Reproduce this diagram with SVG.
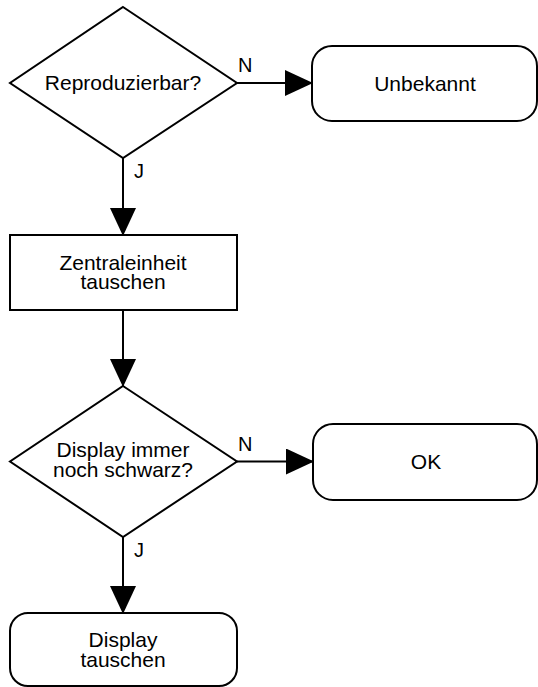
<svg xmlns="http://www.w3.org/2000/svg" width="538" height="687" viewBox="0 0 538 687">
<style>
.shape{fill:#ffffff;stroke:#000000;stroke-width:2}
.lbl{font-family:"Liberation Sans",Arial,Helvetica,sans-serif;font-size:21px;fill:#000000;text-anchor:middle}
.edge{font-family:"Liberation Sans",Arial,Helvetica,sans-serif;font-size:20px;fill:#000000}
.conn{stroke:#000000;stroke-width:2;fill:none;marker-end:url(#ah)}
</style>
<defs>
<marker id="ah" markerUnits="userSpaceOnUse" markerWidth="28" markerHeight="26" refX="27" refY="13" orient="auto" viewBox="0 0 28 26">
<path d="M0,0 L28,13 L0,26 Z" fill="#000000"/>
</marker>
</defs>
<rect width="538" height="687" fill="#ffffff"/>
<g id="connectors">
<line class="conn" x1="237" y1="83" x2="312" y2="83"/>
<line class="conn" x1="123" y1="158" x2="123" y2="235"/>
<line class="conn" x1="123" y1="310" x2="123" y2="386"/>
<line class="conn" x1="237" y1="461.5" x2="313" y2="461.5"/>
<line class="conn" x1="123" y1="537" x2="123" y2="613"/>
<text class="edge" x="238" y="72">N</text>
<text class="edge" x="134" y="178">J</text>
<text class="edge" x="238" y="451">N</text>
<text class="edge" x="134" y="557">J</text>
</g>
<g id="reproduzierbar">
<polygon class="shape" points="123,7 237,83 123,158 10,83"/>
<text class="lbl" x="123" y="90">Reproduzierbar?</text>
</g>
<g id="unbekannt">
<rect class="shape" x="312" y="46" width="225" height="75" rx="20" ry="20"/>
<text class="lbl" x="425" y="91">Unbekannt</text>
</g>
<g id="zentraleinheit">
<rect class="shape" x="10" y="235" width="227" height="75"/>
<text class="lbl" x="123" y="270">Zentraleinheit</text>
<text class="lbl" x="123" y="289">tauschen</text>
</g>
<g id="display-schwarz">
<polygon class="shape" points="123,386 237,461.5 123,537 10,461.5"/>
<text class="lbl" x="123" y="457">Display immer</text>
<text class="lbl" x="123" y="477">noch schwarz?</text>
</g>
<g id="ok">
<rect class="shape" x="313" y="424" width="224" height="76" rx="20" ry="20"/>
<text class="lbl" x="426" y="469">OK</text>
</g>
<g id="display-tauschen">
<rect class="shape" x="10" y="613" width="227" height="73" rx="18" ry="18"/>
<text class="lbl" x="123" y="647">Display</text>
<text class="lbl" x="123" y="667">tauschen</text>
</g>
</svg>
